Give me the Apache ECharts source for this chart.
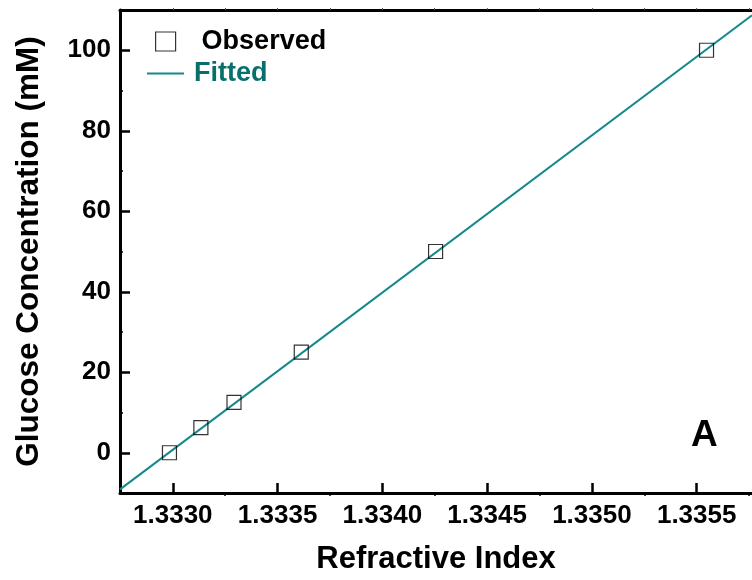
<!DOCTYPE html>
<html>
<head>
<meta charset="utf-8">
<script src="https://cdn.jsdelivr.net/npm/echarts@6/dist/echarts.min.js"></script>
<style>
html,body{margin:0;padding:0;background:#fff;}
#chart{width:752px;height:580px;}
</style>
</head>
<body>
<div id="chart"></div>
<script>
// Observed data
var refractiveIndex = [1.332984, 1.333134, 1.333292, 1.333613, 1.334254, 1.335547];
var glucose = [0, 6.25, 12.5, 25, 50, 100];
// Fitted line endpoints (edges of the plot)
var fitX = [1.332748, 1.335764];
var fitY = [-9.1, 108.7];
// Tick labels
var xTicks = [1.3330, 1.3335, 1.3340, 1.3345, 1.3350, 1.3355];
var xMinorTicks = [1.33325, 1.33375, 1.33425, 1.33475, 1.33525, 1.33575];
var yTicks = [0, 20, 40, 60, 80, 100];
var yMinorTicks = [10, 30, 50, 70, 90];

var FONT = "'Liberation Sans', Arial, sans-serif";
var TEAL = '#13898a';
var TEAL_TEXT = '#07706c';

var chart = echarts.init(document.getElementById('chart'), null, {renderer: 'canvas'});

var observed = refractiveIndex.map(function (x, i) { return [x, glucose[i]]; });
var fitted = fitX.map(function (x, i) { return [x, fitY[i]]; });
var allXTicks = xTicks.concat(xMinorTicks).sort(function (a, b) { return a - b; });

chart.setOption({
  animation: false,
  backgroundColor: '#fff',
  grid: {left: 120, right: 0, top: 10, bottom: 87, containLabel: false},
  legend: [
    {
      left: 155, top: 28, padding: 0, orient: 'vertical', selectedMode: false,
      itemWidth: 20, itemHeight: 19,
      data: [{name: 'Observed', icon: 'rect',
              itemStyle: {color: '#fff', borderColor: '#000', borderWidth: 1.2}}],
      textStyle: {fontFamily: FONT, fontWeight: 'bold', fontSize: 27, color: '#000', padding: [4, 0, 0, 21]}
    },
    {
      left: 147, top: 60, padding: 0, orient: 'vertical', selectedMode: false,
      itemWidth: 37, itemHeight: 2,
      data: [{name: 'Fitted', icon: 'rect', itemStyle: {color: TEAL}}],
      textStyle: {fontFamily: FONT, fontWeight: 'bold', fontSize: 27, color: TEAL_TEXT, padding: [4, 0, 0, 5]}
    }
  ],
  xAxis: [
    {
      type: 'value', position: 'bottom', min: fitX[0], max: fitX[1],
      name: 'Refractive Index', nameLocation: 'middle', nameGap: 51,
      nameTextStyle: {fontFamily: FONT, fontWeight: 'bold', fontSize: 31, color: '#000'},
      axisLine: {show: true, onZero: false, lineStyle: {color: '#000', width: 3}},
      axisTick: {show: true, inside: true, length: 10, customValues: xTicks, lineStyle: {color: '#000', width: 2.5}},
      axisLabel: {show: true, customValues: xTicks, margin: 10, fontFamily: FONT, fontWeight: 'bold', fontSize: 26, color: '#000',
                  formatter: function (v) { return v.toFixed(4); }},
      splitLine: {show: false}
    },
    {
      type: 'value', position: 'bottom', min: fitX[0], max: fitX[1],
      axisLine: {show: false, onZero: false},
      axisTick: {show: true, inside: false, length: 3, customValues: xMinorTicks, lineStyle: {color: '#000', width: 1.5}},
      axisLabel: {show: false},
      splitLine: {show: false}
    },
    {
      type: 'value', position: 'top', min: fitX[0], max: fitX[1],
      axisLine: {show: true, onZero: false, lineStyle: {color: '#000', width: 3}},
      axisTick: {show: true, inside: false, length: 2, customValues: allXTicks, lineStyle: {color: '#555', width: 1}},
      axisLabel: {show: false},
      splitLine: {show: false}
    }
  ],
  yAxis: [
    {
      type: 'value', position: 'left', min: -10, max: 110,
      name: 'Glucose Concentration (mM)', nameLocation: 'middle', nameGap: 75, nameRotate: 90,
      nameTextStyle: {fontFamily: FONT, fontWeight: 'bold', fontSize: 31.5, color: '#000'},
      axisLine: {show: true, onZero: false, lineStyle: {color: '#000', width: 3}},
      axisTick: {show: true, inside: true, length: 10, customValues: yTicks, lineStyle: {color: '#000', width: 2.5}},
      axisLabel: {show: true, customValues: yTicks, margin: 9, fontFamily: FONT, fontWeight: 'bold', fontSize: 26, color: '#000'},
      splitLine: {show: false}
    },
    {
      type: 'value', position: 'left', min: -10, max: 110,
      axisLine: {show: false, onZero: false},
      axisTick: {show: true, inside: true, length: 3, customValues: yMinorTicks, lineStyle: {color: '#000', width: 1.5}},
      axisLabel: {show: false},
      splitLine: {show: false}
    }
  ],
  series: [
    {
      name: 'Fitted', type: 'line', xAxisIndex: 0, yAxisIndex: 0,
      data: fitted, showSymbol: false, symbol: 'none', clip: true,
      lineStyle: {color: TEAL, width: 2}, itemStyle: {color: TEAL}, z: 2
    },
    {
      name: 'Observed', type: 'scatter', xAxisIndex: 0, yAxisIndex: 0,
      data: observed, symbol: 'rect', symbolSize: 14,
      itemStyle: {color: 'rgba(255,255,255,0)', borderColor: '#000', borderWidth: 1.2}, z: 3
    }
  ],
  graphic: [
    {
      type: 'text', left: 691, top: 417, z: 10,
      style: {text: 'A', font: 'bold 37px ' + FONT, fill: '#000'}
    }
  ]
});
</script>
</body>
</html>
